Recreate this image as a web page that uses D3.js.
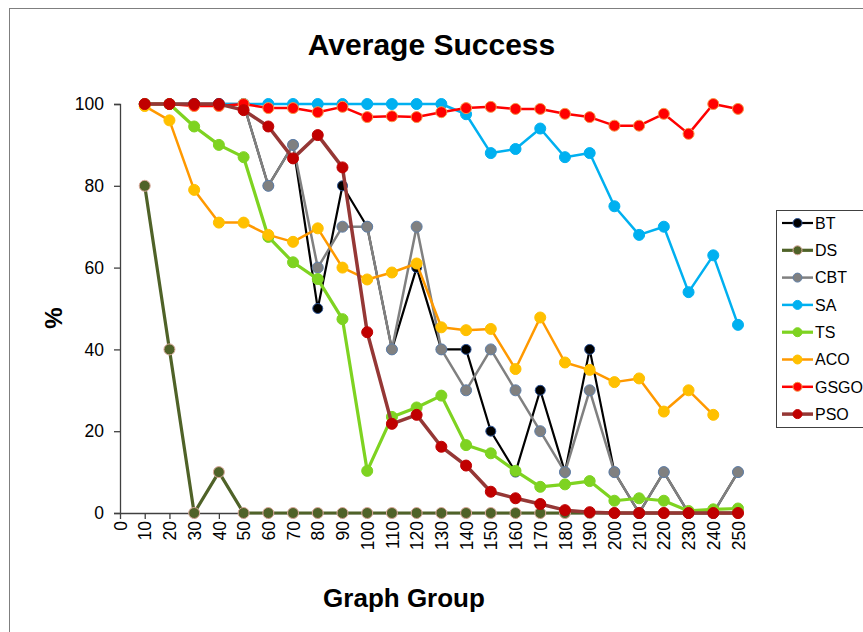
<!DOCTYPE html>
<html><head><meta charset="utf-8">
<script src="https://cdn.jsdelivr.net/npm/d3@7"></script>
<style>body{margin:0;background:#fff}svg{display:block;font-family:"Liberation Sans",Arial,sans-serif}</style>
</head><body>
<svg id="c" width="863" height="632"></svg>
<script>
const groups = [10,20,30,40,50,60,70,80,90,100,110,120,130,140,150,160,170,180,190,200,210,220,230,240,250];
const xTicks = [0,10,20,30,40,50,60,70,80,90,100,110,120,130,140,150,160,170,180,190,200,210,220,230,240,250];
const yTicks = [0,20,40,60,80,100];
const BT   = [100,100,100,100,100,80,90,50,80,70,40,60,40,40,20,10,30,10,40,10,0,10,0,0,10];
const DS   = [80,40,0,10,0,0,0,0,0,0,0,0,0,0,0,0,0,0,0,0,0,0,0,0,0];
const CBT  = [100,100,100,100,100,80,90,60,70,70,40,70,40,30,40,30,20,10,30,10,0,10,0,0,10];
const SA   = [100,100,100,100,100,100,100,100,100,100,100,100,100,97.5,88,89,94,87,88,75,68,70,54,63,46];
const TS   = [100,100,94.5,90,87,67.5,61.3,57.2,47.4,10.3,23.5,25.8,28.7,16.6,14.6,10.3,6.4,7,7.8,3,3.6,3,0.5,0.9,1.1];
const ACO  = [99.5,96,79,71,71,68,66.3,69.6,60,57.1,58.8,61,45.4,44.7,45,35.2,47.8,36.8,35,32,32.9,24.8,30,24,null];
const GSGO = [100,100,99.5,99.5,100,99,99,98,99.3,96.8,97,96.8,98,99,99.3,98.8,98.8,97.6,96.8,94.7,94.7,97.6,92.7,100,98.8];
const PSO  = [100,100,100,100,98.5,94.5,86.7,92.4,84.5,44.2,21.8,24,16.2,11.6,5.2,3.6,2.2,0.7,0.2,0,0,0,0,0,0];

const series = [
  {name:"BT",   values:BT,   line:"#000000", fill:"#000000", edge:"#2f5597", w:2.2, r:5},
  {name:"DS",   values:DS,   line:"#4f6228", fill:"#4f6228", edge:"#d9a89a", w:3.2, r:5.5},
  {name:"CBT",  values:CBT,  line:"#808080", fill:"#808080", edge:"#5f7fa8", w:2.5, r:5.5},
  {name:"SA",   values:SA,   line:"#00b0f0", fill:"#00b0f0", edge:"#00b0f0", w:2.5, r:5.5},
  {name:"TS",   values:TS,   line:"#7ed321", fill:"#7ed321", edge:"#7ed321", w:3.2, r:5.5},
  {name:"ACO",  values:ACO,  line:"#ff9900", fill:"#ffc000", edge:"#ffc000", w:2.5, r:5.5},
  {name:"GSGO", values:GSGO, line:"#ff0000", fill:"#ff0000", edge:"#f79646", w:2.5, r:5.5},
  {name:"PSO",  values:PSO,  line:"#953735", fill:"#c00000", edge:"#c00000", w:3.5, r:5.5}
];

const svg = d3.select("#c");
svg.append("rect").attr("x",9.5).attr("y",8.5).attr("width",900).attr("height",700)
  .attr("fill","none").attr("stroke","#7f7f7f").attr("stroke-width",1);

const x = d3.scaleLinear().domain([0,250]).range([120,738]);
const y = d3.scaleLinear().domain([0,100]).range([513,104]);

// title
svg.append("text").attr("x",431.5).attr("y",55).attr("text-anchor","middle")
  .attr("font-size",30).attr("font-weight","bold").text("Average Success");

// axes
const yAx = svg.append("g").attr("transform","translate(120,0)")
  .call(d3.axisLeft(y).tickValues(yTicks).tickSize(6).tickPadding(10));
yAx.select(".domain").attr("stroke","#404040").attr("stroke-width",1.3);
yAx.selectAll(".tick line").attr("stroke","#404040").attr("stroke-width",1.3);
yAx.selectAll("text").attr("font-size",17.5).attr("fill","#000").attr("font-family","Liberation Sans, Arial");

const xAx = svg.append("g").attr("transform","translate(0,513)")
  .call(d3.axisBottom(x).tickValues(xTicks).tickSize(6).tickSizeOuter(0));
xAx.select(".domain").attr("stroke","#404040").attr("stroke-width",1.3);
xAx.selectAll(".tick line").attr("stroke","#404040").attr("stroke-width",1.3);
xAx.selectAll("text").attr("font-size",17.5).attr("fill","#000").attr("font-family","Liberation Sans, Arial")
  .attr("transform","rotate(-90)").attr("text-anchor","end").attr("x",-8).attr("y",0).attr("dy","0.35em");

// axis titles
svg.append("text").attr("transform","translate(62,318) rotate(-90)").attr("text-anchor","middle")
  .attr("font-size",24).attr("font-weight","bold").text("%");
svg.append("text").attr("x",404).attr("y",607).attr("text-anchor","middle")
  .attr("font-size",26).attr("font-weight","bold").text("Graph Group");

// series
const line = d3.line().defined(d => d.v !== null).x(d => x(d.g)).y(d => y(d.v));
series.forEach(s => {
  const pts = groups.map((g,i) => ({g, v:s.values[i]}));
  const g = svg.append("g");
  g.append("path").datum(pts).attr("d",line).attr("fill","none")
    .attr("stroke",s.line).attr("stroke-width",s.w).attr("stroke-linejoin","round");
  g.selectAll("circle").data(pts.filter(d => d.v !== null)).join("circle")
    .attr("cx",d => x(d.g)).attr("cy",d => y(d.v)).attr("r",s.r)
    .attr("fill",s.fill).attr("stroke",s.edge).attr("stroke-width",1);
});

// legend
const lg = svg.append("g");
lg.append("rect").attr("x",776.5).attr("y",210.5).attr("width",120).attr("height",217)
  .attr("fill","#fff").attr("stroke","#404040").attr("stroke-width",1);
series.forEach((s,i) => {
  const yy = 223 + i*27.3;
  lg.append("line").attr("x1",782).attr("x2",813).attr("y1",yy).attr("y2",yy)
    .attr("stroke",s.line).attr("stroke-width",s.w);
  lg.append("circle").attr("cx",797.5).attr("cy",yy).attr("r",4.5)
    .attr("fill",s.fill).attr("stroke",s.edge).attr("stroke-width",1);
  lg.append("text").attr("x",815).attr("y",yy).attr("dy","0.36em")
    .attr("font-size",16).attr("fill","#000").text(s.name);
});
</script>
</body></html>
